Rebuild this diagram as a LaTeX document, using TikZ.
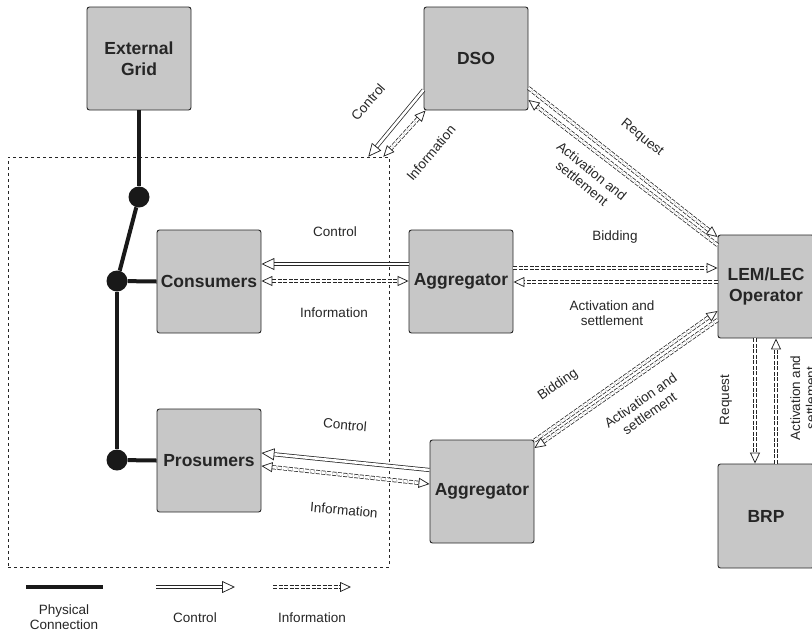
\documentclass[tikz,border=0pt]{standalone}
\usepackage{fontspec}
\setmainfont{Liberation Sans}
\usetikzlibrary{arrows.meta}
\usetikzlibrary{positioning}

\begin{document}
\begin{tikzpicture}
		[x=1pt,y=-1pt,
		box/.style={draw=black!85,fill=black!22,rounded corners=2.5pt,line width=0.9pt,minimum width=104pt,minimum height=103pt,inner sep=0pt,align=center,text=black!85,font=\bfseries\fontsize{17.5}{21}\selectfont},
		lbl/.style={align=center,text=black!85,font=\fontsize{13.5}{15.5}\selectfont},
		dot/.style={circle,fill=black!90,minimum size=21pt,inner sep=0pt},
		phys/.style={line width=4pt,draw=black!90},
		ctrl/.style={draw=black!85,line width=0.75pt,double=white,double distance=2.6pt,-{Triangle[open,length=13pt,width=12pt]}},
		info/.style={draw=black!85,line width=0.75pt,double=white,double distance=2.6pt,dash pattern=on 4pt off 1.5pt,-{Triangle[open,length=11pt,width=10pt]}},
		infob/.style={info,{Triangle[open,length=11pt,width=10pt]}-{Triangle[open,length=11pt,width=10pt]}}]
		\useasboundingbox (0,0) rectangle (812,638);
		
		% market area
		\node (area) [draw=black!85,dashed,line width=0.6pt,minimum width=381pt,minimum height=410pt] at (198.5,362) {};
		
		\node (grid) [box] at (139,58.5) {External\\Grid};
		\node (dso) [box] at (476,58.5) {DSO};
		\node (cons) [box] at (209,281.5) {Consumers};
		\node (pros) [box] at (209,460.5) {Prosumers};
		\node (agg1) [box] at (461,281.5) {Aggregator};
		\node (agg2) [box] at (482,491.5) {Aggregator};
		\node (lem) [box,minimum width=96pt] at (766,286.5) {LEM/LEC\\Operator};
		\node (brp) [box,minimum width=96pt,minimum height=104pt] at (766,516) {BRP};
		
		\node (d1) [dot] at (139,197) {};
		\node (d2) [dot] at (117,281) {};
		\node (d3) [dot] at (117,460) {};
		
		\foreach \from/\to in 
		{grid.south/d1, d1/d2, d2/d3, d2/cons.west, d3/pros.west}
		\draw[phys] (\from) -- (\to);
		
		% DSO to market area
		\draw[ctrl] (dso.west |- 0,90) -- ([xshift=-21pt]area.north east);
		\draw[infob] ([xshift=2pt]dso.south west) -- ([xshift=-6pt]area.north east);
		
		% DSO and operator
		\draw[info] (dso.east |- 0,88) -- (lem.west |- 0,237);
		\draw[info] (lem.west |- 0,245) -- (dso.east |- 0,100);
		
		% aggregators
		\draw[ctrl] (agg1.west |- 0,264) -- (cons.east |- 0,264);
		\draw[infob] (cons.east |- 0,281) -- (agg1.west |- 0,281);
		\draw[info] (agg1.east |- 0,268) -- (lem.west |- 0,268);
		\draw[info] (lem.west |- 0,282) -- (agg1.east |- 0,282);
		\draw[ctrl] (agg2.west |- 0,470) -- (pros.east |- 0,453);
		\draw[infob] (pros.east |- 0,466) -- (agg2.west |- 0,484);
		\draw[info] ([yshift=-1pt]agg2.north east) -- (lem.west |- 0,311);
		\draw[info] (lem.west |- 0,320) -- (agg2.east |- 0,448);
		
		% operator and BRP
		\draw[info] (lem.south -| 755,0) -- (brp.north -| 755,0);
		\draw[info] (brp.north -| 776,0) -- (lem.south -| 776,0);
		
		\node[lbl,rotate=49] at (368,102) {Control};
		\node[lbl,rotate=50] at (431,153) {Information};
		\node[lbl,rotate=-39] at (642,138) {Request};
		\node[lbl,rotate=-39] at (587,177) {Activation and\\settlement};
		\node[lbl] at (615,237) {Bidding};
		\node[lbl] at (612,313) {Activation and\\settlement};
		\node[lbl] at (335,232) {Control};
		\node[lbl] at (334,313) {Information};
		\node[lbl,rotate=-5] at (345,425) {Control};
		\node[lbl,rotate=-5] at (344,510) {Information};
		\node[lbl,rotate=35] at (558,385) {Bidding};
		\node[lbl,rotate=35] at (645,407) {Activation and\\settlement};
		\node[lbl,rotate=90] at (726,400) {Request};
		\node[lbl,rotate=90] at (803,398) {Activation and\\settlement};
		
		% legend
		\coordinate (p1) at (26,587);
		\coordinate (p2) at (103,587);
		\coordinate (c1) at (156,587);
		\coordinate (c2) at (235,587);
		\coordinate (i1) at (273,587);
		\coordinate (i2) at (351,587);
		\draw[phys] (p1) -- (p2);
		\draw[ctrl] (c1) -- (c2);
		\draw[info] (i1) -- (i2);
		\node[lbl] at (64,617) {Physical\\Connection};
		\node[lbl] at (195,618) {Control};
		\node[lbl] at (312,618) {Information};
		\end{tikzpicture}
\end{document}
